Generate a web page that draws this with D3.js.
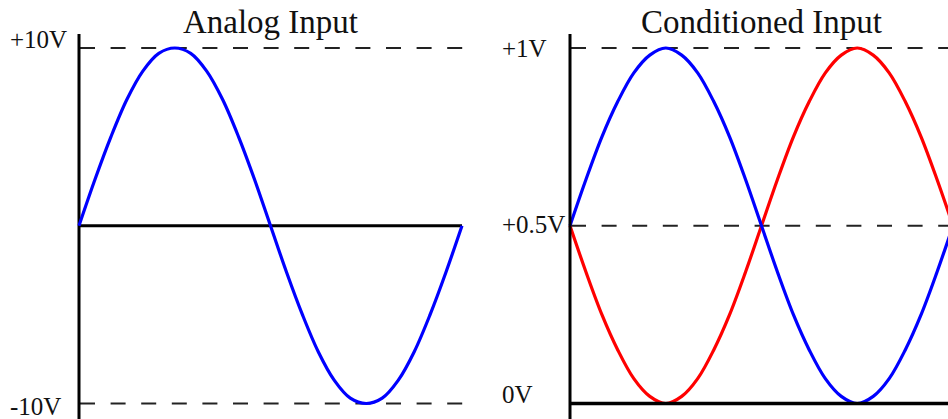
<!DOCTYPE html>
<html>
<head>
<meta charset="utf-8">
<script src="https://cdn.jsdelivr.net/npm/d3@7/dist/d3.min.js"></script>
<style>
  html, body { margin: 0; padding: 0; background: #fff; }
  svg { display: block; }
  text { font-family: "Liberation Serif", "Times New Roman", serif; fill: #111; }
</style>
</head>
<body>
<svg id="chart" width="948" height="419"></svg>
<script>
// Phase steps of 15 degrees across one full period (0..24)
const phase = d3.range(0, 25);

// Analog input, volts
const analogValues = [0, 2.6, 5.0, 7.1, 8.7, 9.7, 10, 9.7, 8.7, 7.1, 5.0, 2.6, 0,
  -2.6, -5.0, -7.1, -8.7, -9.7, -10, -9.7, -8.7, -7.1, -5.0, -2.6, 0];

// Conditioned input, volts (positive and inverted channels)
const condPositive = [0.5, 0.63, 0.75, 0.85, 0.93, 0.98, 1.0, 0.98, 0.93, 0.85, 0.75, 0.63, 0.5,
  0.37, 0.25, 0.15, 0.07, 0.02, 0.0, 0.02, 0.07, 0.15, 0.25, 0.37, 0.5];
const condInverted = [0.5, 0.37, 0.25, 0.15, 0.07, 0.02, 0.0, 0.02, 0.07, 0.15, 0.25, 0.37, 0.5,
  0.63, 0.75, 0.85, 0.93, 0.98, 1.0, 0.98, 0.93, 0.85, 0.75, 0.63, 0.5];

const titles = ["Analog Input", "Conditioned Input"];
const analogTicks = [10, -10];
const analogTickLabels = ["+10V", "-10V"];
const condTicks = [1, 0.5, 0];
const condTickLabels = ["+1V", "+0.5V", "0V"];

const svg = d3.select("#chart");
const W = 948, H = 419;

const dashStyle = { stroke: "#222", width: 2, dash: "15,15.6" };

// ---------- Left panel ----------
const xL = d3.scaleLinear().domain([0, 24]).range([79, 462]);
const yL = d3.scaleLinear().domain([-10, 10]).range([403.5, 48]);

const left = svg.append("g");

// reference dashes at the extremes
left.selectAll("line.ref").data(analogTicks).join("line")
  .attr("class", "ref")
  .attr("x1", xL(0) + 1).attr("x2", xL(24) + 1)
  .attr("y1", d => yL(d)).attr("y2", d => yL(d))
  .attr("stroke", dashStyle.stroke).attr("stroke-width", dashStyle.width)
  .attr("stroke-dasharray", dashStyle.dash);

// zero line
left.append("line")
  .attr("x1", xL(0)).attr("x2", xL(24))
  .attr("y1", yL(0)).attr("y2", yL(0))
  .attr("stroke", "#000").attr("stroke-width", 3);

// vertical axis
left.append("line")
  .attr("x1", xL(0)).attr("x2", xL(0))
  .attr("y1", 34).attr("y2", H)
  .attr("stroke", "#000").attr("stroke-width", 3);

const lineL = d3.line().x((d, i) => xL(phase[i])).y(d => yL(d)).curve(d3.curveCatmullRom.alpha(0.5));
left.append("path").datum(analogValues)
  .attr("d", lineL).attr("fill", "none")
  .attr("stroke", "#0000ff").attr("stroke-width", 3.2).attr("stroke-linejoin", "round");

// tick labels
const leftLabelDy = { "+10V": 0, "-10V": 11.5 };
left.selectAll("text.tick").data(analogTicks).join("text")
  .attr("class", "tick")
  .attr("x", 10)
  .attr("y", (d, i) => yL(d) + leftLabelDy[analogTickLabels[i]])
  .attr("font-size", 25)
  .text((d, i) => analogTickLabels[i]);

left.append("text")
  .attr("x", (xL(0) + xL(24)) / 2).attr("y", 33)
  .attr("text-anchor", "middle").attr("font-size", 33)
  .text(titles[0]);

// ---------- Right panel ----------
const xR = d3.scaleLinear().domain([0, 24]).range([570, 953]);
const yR = d3.scaleLinear().domain([0, 1]).range([403.5, 48]);

const right = svg.append("g");
const clip = svg.append("defs").append("clipPath").attr("id", "clipR");
clip.append("rect").attr("x", 560).attr("y", 0).attr("width", W - 560).attr("height", H);

right.selectAll("line.ref").data(condTicks.filter(d => d > 0)).join("line")
  .attr("class", "ref")
  .attr("x1", xR(0) + 1).attr("x2", W)
  .attr("y1", d => yR(d)).attr("y2", d => yR(d))
  .attr("stroke", dashStyle.stroke).attr("stroke-width", dashStyle.width)
  .attr("stroke-dasharray", dashStyle.dash);

const lineR = d3.line().x((d, i) => xR(phase[i])).y(d => yR(d)).curve(d3.curveCatmullRom.alpha(0.5));
const waves = right.append("g").attr("clip-path", "url(#clipR)");
waves.append("path").datum(condInverted)
  .attr("d", lineR).attr("fill", "none")
  .attr("stroke", "#ff0000").attr("stroke-width", 3.2).attr("stroke-linejoin", "round");
waves.append("path").datum(condPositive)
  .attr("d", lineR).attr("fill", "none")
  .attr("stroke", "#0000ff").attr("stroke-width", 3.2).attr("stroke-linejoin", "round");

// baseline (0V) axis
right.append("line")
  .attr("x1", xR(0)).attr("x2", W)
  .attr("y1", yR(0)).attr("y2", yR(0))
  .attr("stroke", "#000").attr("stroke-width", 3.5);

// vertical axis
right.append("line")
  .attr("x1", xR(0)).attr("x2", xR(0))
  .attr("y1", 34).attr("y2", H)
  .attr("stroke", "#000").attr("stroke-width", 3);

const rightLabelDy = { "+1V": 9, "+0.5V": 7.5, "0V": -0.5 };
right.selectAll("text.tick").data(condTicks).join("text")
  .attr("class", "tick")
  .attr("x", 502)
  .attr("y", (d, i) => yR(d) + rightLabelDy[condTickLabels[i]])
  .attr("font-size", 25)
  .text((d, i) => condTickLabels[i]);

right.append("text")
  .attr("x", (xR(0) + xR(24)) / 2).attr("y", 33)
  .attr("text-anchor", "middle").attr("font-size", 33)
  .text(titles[1]);
</script>
</body>
</html>
